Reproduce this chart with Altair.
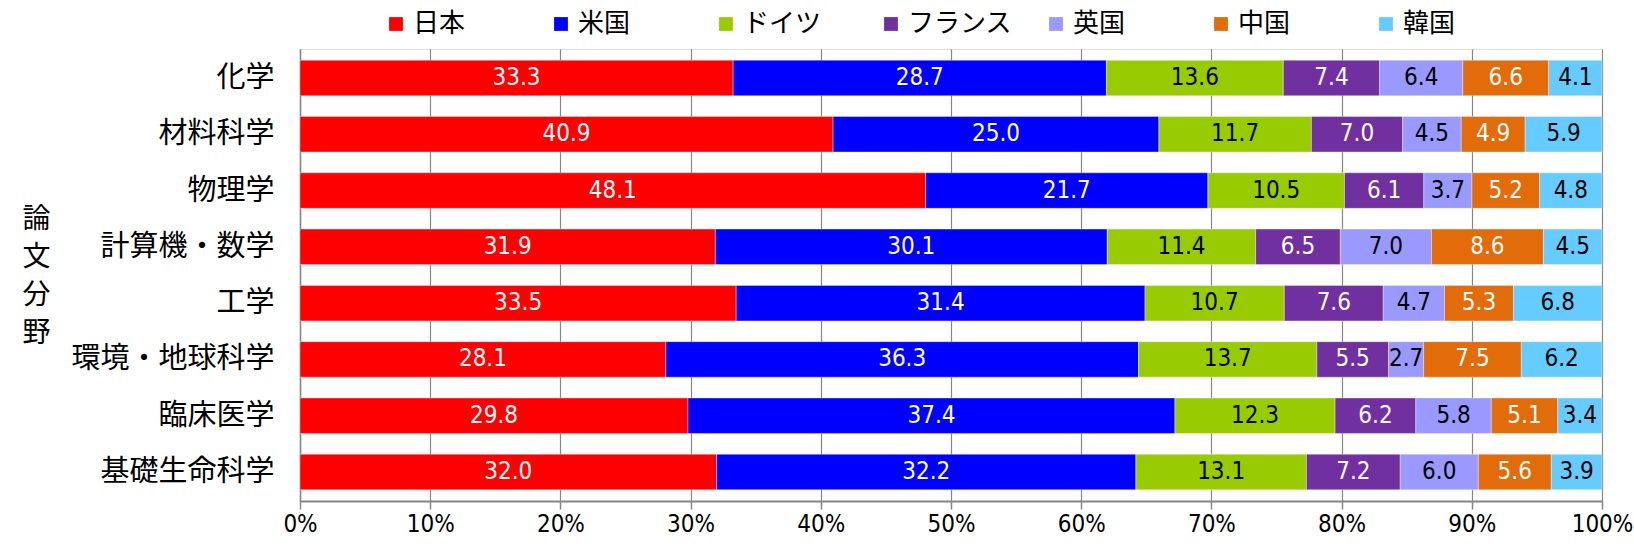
import altair as alt
import pandas as pd

categories = ["化学", "材料科学", "物理学", "計算機・数学", "工学", "環境・地球科学", "臨床医学", "基礎生命科学"]
countries = ["日本", "米国", "ドイツ", "フランス", "英国", "中国", "韓国"]

japan = [33.3, 40.9, 48.1, 31.9, 33.5, 28.1, 29.8, 32.0]
usa = [28.7, 25.0, 21.7, 30.1, 31.4, 36.3, 37.4, 32.2]
germany = [13.6, 11.7, 10.5, 11.4, 10.7, 13.7, 12.3, 13.1]
france = [7.4, 7.0, 6.1, 6.5, 7.6, 5.5, 6.2, 7.2]
uk = [6.4, 4.5, 3.7, 7.0, 4.7, 2.7, 5.8, 6.0]
china = [6.6, 4.9, 5.2, 8.6, 5.3, 7.5, 5.1, 5.6]
korea = [4.1, 5.9, 4.8, 4.5, 6.8, 6.2, 3.4, 3.9]

series = [japan, usa, germany, france, uk, china, korea]
bar_colors = ["#FF0000", "#0000FF", "#99CC00", "#7030A0", "#9999FF", "#E26B0A", "#66CCFF"]
text_colors = ["white", "white", "black", "white", "black", "white", "black"]

rows = []
for ci, (country, vals) in enumerate(zip(countries, series)):
    for cat, v in zip(categories, vals):
        rows.append({"category": cat, "country": country, "order": ci, "value": v,
                     "label": f"{v:.1f}"})
df = pd.DataFrame(rows)

JP = "Noto Sans CJK JP"
NUM = "Liberation Sans Narrow, DejaVu Sans Condensed, Noto Sans CJK JP"

base = alt.Chart(df).transform_stack(
    stack="value", groupby=["category"], as_=["x0", "x1"], offset="normalize",
    sort=[alt.SortField("order", order="ascending")]
).transform_calculate(mid="(datum.x0 + datum.x1) / 2")

y_enc = alt.Y("category:N", sort=categories,
              scale=alt.Scale(paddingInner=0.37, paddingOuter=0.2),
              axis=alt.Axis(title=["論", "文", "分", "野"], titleAngle=0, titleFont=JP,
                            titleFontSize=28, titleFontWeight="normal", titleColor="black",
                            titleLineHeight=38, titleX=-264, titleY=170, titleAlign="center",
                            titleBaseline="middle",
                            labelFont=JP, labelFontSize=29, labelColor="black",
                            labelLimit=400,
                            labelPadding=26, ticks=False, domainColor="#868686",
                            domainWidth=1.5))

bars = base.mark_bar(stroke="white", strokeWidth=0.6, strokeOpacity=0.6).encode(
    x=alt.X("x0:Q", scale=alt.Scale(domain=[0, 1], nice=False),
            axis=alt.Axis(format=".0%", values=[i / 10 for i in range(11)],
                          grid=True, gridColor="#868686", gridWidth=1.2,
                          domainColor="#868686", domainWidth=2,
                          tickColor="#868686", tickSize=8, tickWidth=1.5,
                          labelFont=NUM, labelFontSize=24, labelColor="black",
                          labelPadding=3, title=None, labelFlush=False)),
    x2="x1:Q",
    y=y_enc,
    color=alt.Color("country:N", sort=countries,
                    scale=alt.Scale(domain=countries, range=bar_colors),
                    legend=alt.Legend(title=None, orient="none", legendX=83, legendY=-38,
                                      direction="horizontal", columns=7, gridAlign="all",
                                      columnPadding=30, symbolType="square",
                                      symbolSize=190, symbolStrokeWidth=0,
                                      labelFont=JP, labelFontSize=26, labelColor="black",
                                      labelOffset=4)),
)

texts = base.mark_text(font=NUM, fontSize=24).encode(
    x="mid:Q",
    y=alt.Y("category:N", sort=categories),
    text="label:N",
    color=alt.Color("country:N", scale=alt.Scale(domain=countries, range=text_colors),
                    legend=None),
)

chart = alt.layer(bars, texts).resolve_scale(color="independent").properties(
    width=1302, height=452,
    autosize=alt.AutoSizeParams(type="none"),
    padding={"left": 300, "top": 49, "right": 32, "bottom": 46},
).configure_view(stroke=None).configure(background="white")

chart.save("out.html", embed_options={"renderer": "svg", "actions": False})
